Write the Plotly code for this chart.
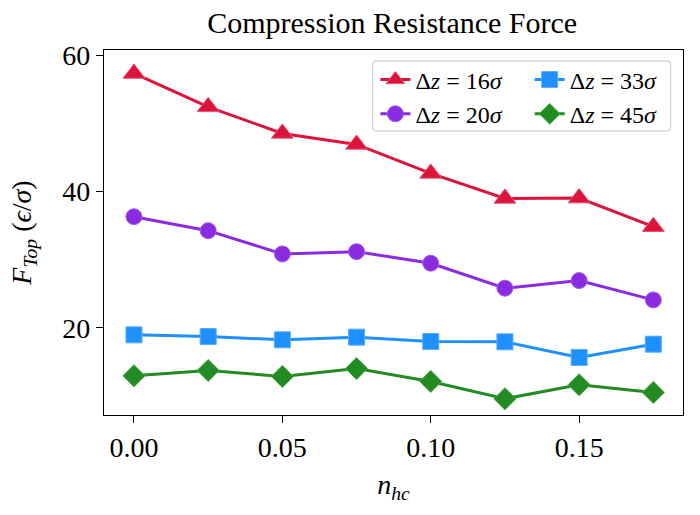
import plotly.graph_objects as go

# ---- data ----
n_hc = [0.0, 0.025, 0.05, 0.075, 0.1, 0.125, 0.15, 0.175]
f_dz16 = [57.35, 52.45, 48.55, 46.93, 42.68, 39.0, 39.05, 34.85]
f_dz20 = [36.32, 34.27, 30.85, 31.19, 29.49, 25.82, 26.94, 24.1]
f_dz33 = [18.97, 18.72, 18.24, 18.63, 17.99, 17.95, 15.65, 17.6]
f_dz45 = [12.96, 13.74, 12.86, 14.03, 12.13, 9.59, 11.64, 10.51]
series_names = ["Δ<i>z</i> = 16<i>σ</i>", "Δ<i>z</i> = 20<i>σ</i>",
                "Δ<i>z</i> = 33<i>σ</i>", "Δ<i>z</i> = 45<i>σ</i>"]
x_tickvals = [0.0, 0.05, 0.10, 0.15]
x_ticktext = ["0.00", "0.05", "0.10", "0.15"]
y_tickvals = [20, 40, 60]

FONT = "Liberation Serif"
W, H = 700, 515
L, R, T, B = 104.3, 16.7, 50, 100
pw, ph = W - L - R, H - T - B

def px2paper_x(px):
    return (px - L) / pw

def px2paper_y(py):
    return (H - B - py) / ph

styles = [
    dict(color="#DC143C", edge="#E8506E", symbol="triangle-up", size=19, legend="legend"),
    dict(color="#8A2BE2", edge="#A55CEB", symbol="circle", size=16, legend="legend"),
    dict(color="#1E90FF", edge="#5AABFF", symbol="square", size=16, legend="legend2"),
    dict(color="#228B22", edge="#4FA84F", symbol="diamond", size=17, legend="legend2"),
]
series = [f_dz16, f_dz20, f_dz33, f_dz45]

fig = go.Figure()
for name, ys, st in zip(series_names, series, styles):
    fig.add_trace(go.Scatter(
        x=n_hc, y=ys, mode="lines+markers", name=name,
        line=dict(color=st["color"], width=3),
        marker=dict(symbol=st["symbol"], size=st["size"], color=st["color"],
                    line=dict(color=st["edge"], width=1)),
        legend=st["legend"], legendgroup=name,
    ))

# legend frame (rounded)
x0, x1 = px2paper_x(373), px2paper_x(671)
y0, y1 = px2paper_y(131), px2paper_y(61)
rx, ry = 4 / pw, 4 / ph
path = (f"M{x0+rx},{y0} L{x1-rx},{y0} Q{x1},{y0} {x1},{y0+ry} L{x1},{y1-ry} Q{x1},{y1} {x1-rx},{y1} "
        f"L{x0+rx},{y1} Q{x0},{y1} {x0},{y1-ry} L{x0},{y0+ry} Q{x0},{y0} {x0+rx},{y0} Z")
fig.add_shape(type="path", path=path, xref="paper", yref="paper",
              line=dict(color="#d6d6d6", width=1.3), fillcolor="rgba(255,255,255,0.8)", layer="below")

leg_common = dict(bgcolor="rgba(0,0,0,0)", borderwidth=0, font=dict(family=FONT, size=24, color="black"),
                  xanchor="left", yanchor="top", traceorder="grouped", tracegroupgap=0,
                  itemwidth=30)

fig.update_layout(
    width=W, height=H,
    margin=dict(l=L, r=R, t=T, b=B),
    paper_bgcolor="white", plot_bgcolor="white",
    font=dict(family=FONT, size=28, color="black"),
    title=dict(text="Compression Resistance Force", x=px2paper_x(392.5), xref="paper", xanchor="center",
               y=1 - 22 / H, yref="container", yanchor="middle",
               font=dict(family=FONT, size=30, color="black")),
    legend=dict(x=px2paper_x(375.7), y=px2paper_y(57.5), **leg_common),
    legend2=dict(x=px2paper_x(530), y=px2paper_y(57.5), **leg_common),
    showlegend=True,
)
fig.update_xaxes(
    range=[-0.0101, 0.1850], tickvals=x_tickvals, ticktext=x_ticktext,
    showline=True, mirror=True, linecolor="black", linewidth=1.3,
    ticks="outside", ticklen=7, tickwidth=1.3, tickcolor="black",
    showgrid=False, zeroline=False,
    tickfont=dict(family=FONT, size=28),
    title=dict(text="<i>n</i><sub><i>hc</i></sub>", font=dict(family=FONT, size=28), standoff=12),
)
fig.update_yaxes(
    range=[7.2, 60.8], tickvals=y_tickvals,
    showline=True, mirror=True, linecolor="black", linewidth=1.3,
    ticks="outside", ticklen=7, tickwidth=1.3, tickcolor="black",
    showgrid=False, zeroline=False,
    tickfont=dict(family=FONT, size=28),
    title=dict(text="<i>F</i><sub><i>Top</i></sub> (<i>ϵ</i>/<i>σ</i>)", font=dict(family=FONT, size=28), standoff=22),
)

fig.write_html("out.html")
